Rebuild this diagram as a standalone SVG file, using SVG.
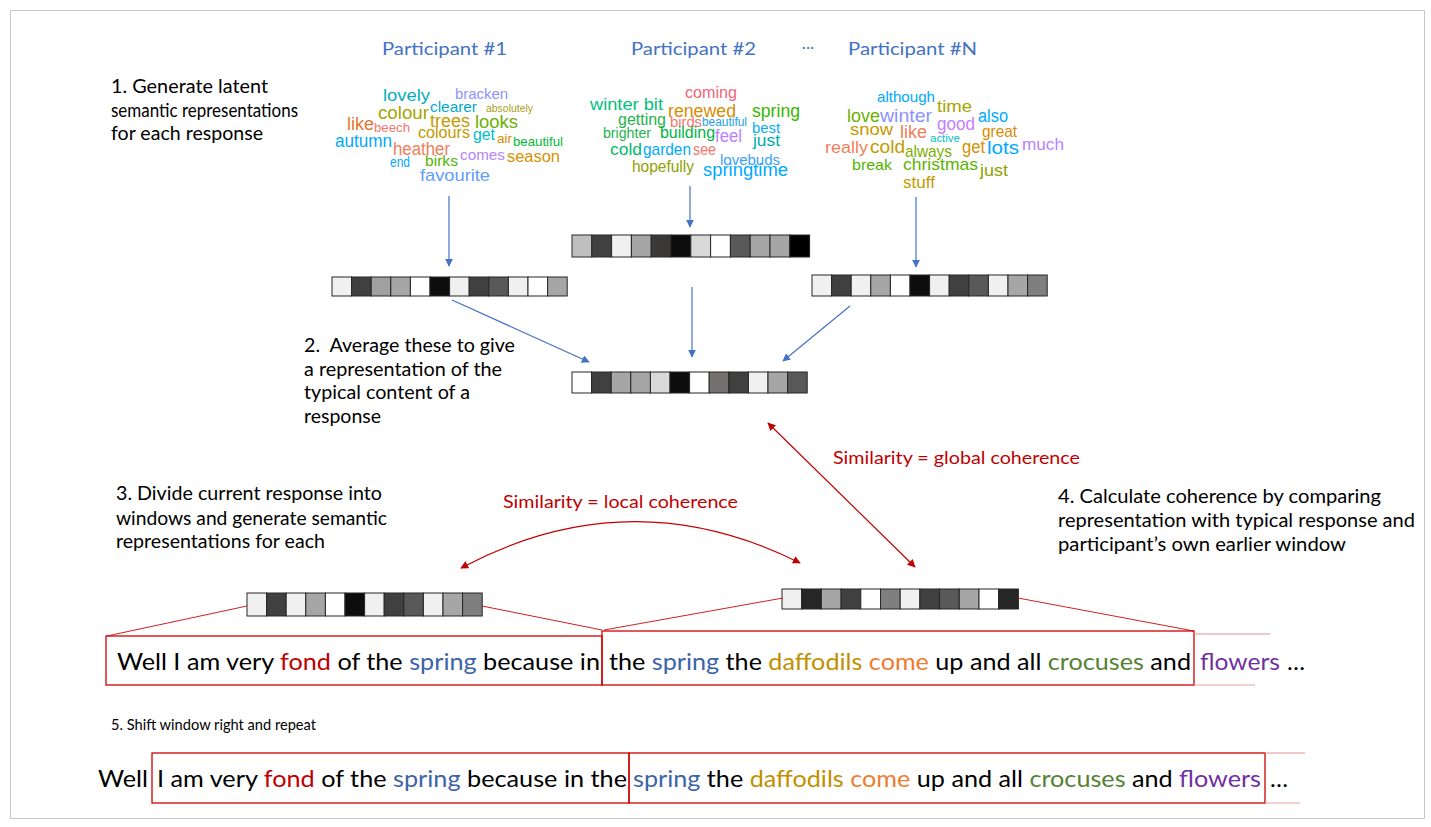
<svg xmlns="http://www.w3.org/2000/svg" width="1431" height="827" viewBox="0 0 1431 827">
<style>
.lbl{font-family:"Lato","Liberation Sans",sans-serif;font-size:18.5px;fill:#000}
.part{font-family:"Lato","Liberation Sans",sans-serif;font-size:17.5px;fill:#4472C4}
.red{font-family:"Lato","Liberation Sans",sans-serif;font-size:18px;fill:#C00000}
.wc{font-family:"Liberation Sans Narrow","Liberation Sans",sans-serif}
.sent{font-family:"Lato","Liberation Sans",sans-serif;font-size:24px;fill:#000}
.cell{stroke:#262626;stroke-width:1}
.bl{stroke:#4472C4;stroke-width:1.2;fill:none;marker-end:url(#ab)}
.rl{stroke:#C00000;stroke-width:1.2;fill:none;marker-end:url(#ar);marker-start:url(#ar)}
.win{stroke:#D00000;stroke-width:1.3;fill:none}
.zoomline{stroke:#D02020;stroke-width:1}
.fond{fill:#C00000}.spr{fill:#3D63A8}.daf{fill:#C09000}.come{fill:#ED7D31}.cro{fill:#548235}.flo{fill:#7030A0}
</style>
<defs>
<marker id="ab" viewBox="0 0 10 10" refX="9" refY="5" markerWidth="8" markerHeight="8" markerUnits="userSpaceOnUse" orient="auto"><path d="M0,0 L10,5 L0,10 z" fill="#4472C4"/></marker>
<marker id="ar" viewBox="0 0 10 10" refX="9" refY="5" markerWidth="8" markerHeight="8" markerUnits="userSpaceOnUse" orient="auto-start-reverse"><path d="M0,0 L10,5 L0,10 z" fill="#C00000"/></marker>
</defs>
<rect x="0" y="0" width="1431" height="827" fill="#fff"/>
<rect x="10.5" y="10.5" width="1414" height="808" fill="none" stroke="#C8C8C8" stroke-width="1"/>

<g id="step1"><text class="lbl" x="111" y="93" textLength="157" lengthAdjust="spacingAndGlyphs">1. Generate latent</text><text class="lbl" x="111" y="117" textLength="187" lengthAdjust="spacingAndGlyphs">semantic representations</text><text class="lbl" x="111" y="140" textLength="152" lengthAdjust="spacingAndGlyphs">for each response</text></g>
<g id="step2"><text class="lbl" x="304" y="352" textLength="211" lengthAdjust="spacingAndGlyphs" xml:space="preserve">2.  Average these to give</text><text class="lbl" x="304" y="376" textLength="198" lengthAdjust="spacingAndGlyphs">a representation of the</text><text class="lbl" x="304" y="399" textLength="166" lengthAdjust="spacingAndGlyphs">typical content of a</text><text class="lbl" x="304" y="423" textLength="77" lengthAdjust="spacingAndGlyphs">response</text></g>
<g id="step3"><text class="lbl" x="116" y="500" textLength="266" lengthAdjust="spacingAndGlyphs">3. Divide current response into</text><text class="lbl" x="116" y="525" textLength="271" lengthAdjust="spacingAndGlyphs">windows and generate semantic</text><text class="lbl" x="116" y="548" textLength="209" lengthAdjust="spacingAndGlyphs">representations for each</text></g>
<g id="step4"><text class="lbl" x="1058" y="503" textLength="323" lengthAdjust="spacingAndGlyphs">4. Calculate coherence by comparing</text><text class="lbl" x="1058" y="527" textLength="357" lengthAdjust="spacingAndGlyphs">representation with typical response and</text><text class="lbl" x="1058" y="551" textLength="288" lengthAdjust="spacingAndGlyphs">participant’s own earlier window</text></g>
<g id="step5"><text class="lbl" x="111" y="730" style="font-size:16px" textLength="205" lengthAdjust="spacingAndGlyphs">5. Shift window right and repeat</text></g>

<g id="participants">
<text class="part" x="382" y="55" textLength="125" lengthAdjust="spacingAndGlyphs">Participant #1</text>
<text class="part" x="631" y="55" textLength="125" lengthAdjust="spacingAndGlyphs">Participant #2</text>
<text class="part" x="808" y="49" text-anchor="middle">...</text>
<text class="part" x="848" y="55" textLength="129" lengthAdjust="spacingAndGlyphs">Participant #N</text>
</g>

<g id="cloud1" class="wc">
<text x="383" y="101" font-size="17" fill="#00AFBB" textLength="47" lengthAdjust="spacingAndGlyphs">lovely</text>
<text x="455" y="99" font-size="15" fill="#8B93FF" textLength="53" lengthAdjust="spacingAndGlyphs">bracken</text>
<text x="430" y="112" font-size="15" fill="#00A8C8" textLength="47" lengthAdjust="spacingAndGlyphs">clearer</text>
<text x="486" y="112" font-size="11" fill="#A8A020" textLength="47" lengthAdjust="spacingAndGlyphs">absolutely</text>
<text x="378" y="119" font-size="18" fill="#A3A500" textLength="51" lengthAdjust="spacingAndGlyphs">colour</text>
<text x="430" y="127" font-size="18" fill="#C49A00" textLength="40" lengthAdjust="spacingAndGlyphs">trees</text>
<text x="475" y="128" font-size="18" fill="#6BB100" textLength="43" lengthAdjust="spacingAndGlyphs">looks</text>
<text x="347" y="130" font-size="18" fill="#E0762F" textLength="27" lengthAdjust="spacingAndGlyphs">like</text>
<text x="374" y="132" font-size="12" fill="#F8766D" textLength="36" lengthAdjust="spacingAndGlyphs">beech</text>
<text x="418" y="138" font-size="16" fill="#C49A00" textLength="52" lengthAdjust="spacingAndGlyphs">colours</text>
<text x="473" y="140" font-size="16" fill="#00BFC4" textLength="22" lengthAdjust="spacingAndGlyphs">get</text>
<text x="497" y="143" font-size="13" fill="#E08B00" textLength="15" lengthAdjust="spacingAndGlyphs">air</text>
<text x="513" y="146" font-size="13" fill="#00BA38" textLength="50" lengthAdjust="spacingAndGlyphs">beautiful</text>
<text x="335" y="147" font-size="18" fill="#00A9FF" textLength="57" lengthAdjust="spacingAndGlyphs">autumn</text>
<text x="393" y="155" font-size="18" fill="#F07E5A" textLength="57" lengthAdjust="spacingAndGlyphs">heather</text>
<text x="460" y="160" font-size="15" fill="#B983FF" textLength="45" lengthAdjust="spacingAndGlyphs">comes</text>
<text x="507" y="162" font-size="16" fill="#D39200" textLength="53" lengthAdjust="spacingAndGlyphs">season</text>
<text x="390" y="167" font-size="15" fill="#00A9FF" textLength="20" lengthAdjust="spacingAndGlyphs">end</text>
<text x="425" y="166" font-size="15" fill="#53B400" textLength="33" lengthAdjust="spacingAndGlyphs">birks</text>
<text x="420" y="181" font-size="17" fill="#619CFF" textLength="70" lengthAdjust="spacingAndGlyphs">favourite</text>
</g>

<g id="cloud2" class="wc">
<text x="685" y="98" font-size="16" fill="#F0657A" textLength="52" lengthAdjust="spacingAndGlyphs">coming</text>
<text x="590" y="110" font-size="17" fill="#00BF7D" textLength="73" lengthAdjust="spacingAndGlyphs">winter bit</text>
<text x="668" y="117" font-size="18" fill="#D98C00" textLength="68" lengthAdjust="spacingAndGlyphs">renewed</text>
<text x="752" y="117" font-size="18" fill="#39B600" textLength="48" lengthAdjust="spacingAndGlyphs">spring</text>
<text x="618" y="125" font-size="16" fill="#24B24C" textLength="48" lengthAdjust="spacingAndGlyphs">getting</text>
<text x="670" y="127" font-size="14" fill="#F8766D" textLength="32" lengthAdjust="spacingAndGlyphs">birds</text>
<text x="702" y="126" font-size="12" fill="#1AA3E8" textLength="45" lengthAdjust="spacingAndGlyphs">beautiful</text>
<text x="752" y="133" font-size="15" fill="#00B0F6" textLength="28" lengthAdjust="spacingAndGlyphs">best</text>
<text x="603" y="138" font-size="14" fill="#1CB34F" textLength="48" lengthAdjust="spacingAndGlyphs">brighter</text>
<text x="660" y="138" font-size="16" fill="#00B53F" textLength="55" lengthAdjust="spacingAndGlyphs">building</text>
<text x="715" y="142" font-size="18" fill="#B983FF" textLength="27" lengthAdjust="spacingAndGlyphs">feel</text>
<text x="753" y="146" font-size="17" fill="#00ABAF" textLength="27" lengthAdjust="spacingAndGlyphs">just</text>
<text x="610" y="155" font-size="17" fill="#00BA6B" textLength="32" lengthAdjust="spacingAndGlyphs">cold</text>
<text x="643" y="155" font-size="17" fill="#00A9FF" textLength="48" lengthAdjust="spacingAndGlyphs">garden</text>
<text x="693" y="155" font-size="17" fill="#F8766D" textLength="23" lengthAdjust="spacingAndGlyphs">see</text>
<text x="720" y="165" font-size="15" fill="#35A2FF" textLength="60" lengthAdjust="spacingAndGlyphs">lovebuds</text>
<text x="632" y="172" font-size="16" fill="#8EA200" textLength="62" lengthAdjust="spacingAndGlyphs">hopefully</text>
<text x="703" y="176" font-size="18" fill="#00A9FF" textLength="85" lengthAdjust="spacingAndGlyphs">springtime</text>
</g>

<g id="cloudN" class="wc">
<text x="877" y="102" font-size="15" fill="#00A9FF" textLength="58" lengthAdjust="spacingAndGlyphs">although</text>
<text x="937" y="112" font-size="17" fill="#A3A500" textLength="35" lengthAdjust="spacingAndGlyphs">time</text>
<text x="847" y="122" font-size="18" fill="#6BB100" textLength="33" lengthAdjust="spacingAndGlyphs">love</text>
<text x="880" y="122" font-size="18" fill="#8B93FF" textLength="52" lengthAdjust="spacingAndGlyphs">winter</text>
<text x="978" y="122" font-size="18" fill="#00A9FF" textLength="30" lengthAdjust="spacingAndGlyphs">also</text>
<text x="937" y="130" font-size="18" fill="#C77CFF" textLength="38" lengthAdjust="spacingAndGlyphs">good</text>
<text x="850" y="135" font-size="17" fill="#C49A00" textLength="43" lengthAdjust="spacingAndGlyphs">snow</text>
<text x="900" y="138" font-size="18" fill="#F07E5A" textLength="27" lengthAdjust="spacingAndGlyphs">like</text>
<text x="982" y="137" font-size="17" fill="#D98C00" textLength="35" lengthAdjust="spacingAndGlyphs">great</text>
<text x="930" y="142" font-size="11" fill="#00BFC4" textLength="30" lengthAdjust="spacingAndGlyphs">active</text>
<text x="825" y="153" font-size="17" fill="#F07E5A" textLength="43" lengthAdjust="spacingAndGlyphs">really</text>
<text x="870" y="153" font-size="18" fill="#C49A00" textLength="35" lengthAdjust="spacingAndGlyphs">cold</text>
<text x="905" y="157" font-size="17" fill="#7CAE00" textLength="47" lengthAdjust="spacingAndGlyphs">always</text>
<text x="962" y="153" font-size="18" fill="#D39200" textLength="23" lengthAdjust="spacingAndGlyphs">get</text>
<text x="987" y="154" font-size="18" fill="#00A9FF" textLength="32" lengthAdjust="spacingAndGlyphs">lots</text>
<text x="1022" y="150" font-size="17" fill="#B983FF" textLength="42" lengthAdjust="spacingAndGlyphs">much</text>
<text x="852" y="170" font-size="15" fill="#53B400" textLength="40" lengthAdjust="spacingAndGlyphs">break</text>
<text x="903" y="170" font-size="17" fill="#5BB300" textLength="75" lengthAdjust="spacingAndGlyphs">christmas</text>
<text x="980" y="176" font-size="16" fill="#8EA200" textLength="28" lengthAdjust="spacingAndGlyphs">just</text>
<text x="903" y="188" font-size="16" fill="#C49A00" textLength="32" lengthAdjust="spacingAndGlyphs">stuff</text>
</g>

<g id="vec1" class="cell">
<rect x="332" y="277" width="19.6" height="19" fill="#F0F0F0"/><rect x="351.6" y="277" width="19.6" height="19" fill="#404040"/><rect x="371.2" y="277" width="19.6" height="19" fill="#A0A0A0"/><rect x="390.8" y="277" width="19.6" height="19" fill="#A6A6A6"/><rect x="410.4" y="277" width="19.6" height="19" fill="#FFFFFF"/><rect x="430" y="277" width="19.6" height="19" fill="#0D0D0D"/><rect x="449.6" y="277" width="19.6" height="19" fill="#F0F0F0"/><rect x="469.2" y="277" width="19.6" height="19" fill="#404040"/><rect x="488.8" y="277" width="19.6" height="19" fill="#595959"/><rect x="508.4" y="277" width="19.6" height="19" fill="#F0F0F0"/><rect x="528" y="277" width="19.6" height="19" fill="#FFFFFF"/><rect x="547.6" y="277" width="19.6" height="19" fill="#A6A6A6"/>
</g>
<g id="vec2" class="cell">
<rect x="572" y="235" width="19.8" height="22" fill="#BFBFBF"/><rect x="591.8" y="235" width="19.8" height="22" fill="#404040"/><rect x="611.6" y="235" width="19.8" height="22" fill="#F0F0F0"/><rect x="631.4" y="235" width="19.8" height="22" fill="#A6A6A6"/><rect x="651.2" y="235" width="19.8" height="22" fill="#3B3838"/><rect x="671" y="235" width="19.8" height="22" fill="#0D0D0D"/><rect x="690.8" y="235" width="19.8" height="22" fill="#D9D9D9"/><rect x="710.6" y="235" width="19.8" height="22" fill="#FFFFFF"/><rect x="730.4" y="235" width="19.8" height="22" fill="#595959"/><rect x="750.2" y="235" width="19.8" height="22" fill="#A6A6A6"/><rect x="770" y="235" width="19.8" height="22" fill="#A6A6A6"/><rect x="789.8" y="235" width="19.8" height="22" fill="#000000"/>
</g>
<g id="vecN" class="cell">
<rect x="812" y="275" width="19.6" height="21" fill="#F0F0F0"/><rect x="831.6" y="275" width="19.6" height="21" fill="#404040"/><rect x="851.2" y="275" width="19.6" height="21" fill="#F0F0F0"/><rect x="870.8" y="275" width="19.6" height="21" fill="#A6A6A6"/><rect x="890.4" y="275" width="19.6" height="21" fill="#FFFFFF"/><rect x="910" y="275" width="19.6" height="21" fill="#0D0D0D"/><rect x="929.6" y="275" width="19.6" height="21" fill="#F0F0F0"/><rect x="949.2" y="275" width="19.6" height="21" fill="#404040"/><rect x="968.8" y="275" width="19.6" height="21" fill="#595959"/><rect x="988.4" y="275" width="19.6" height="21" fill="#F0F0F0"/><rect x="1008" y="275" width="19.6" height="21" fill="#A6A6A6"/><rect x="1027.6" y="275" width="19.6" height="21" fill="#7F7F7F"/>
</g>
<g id="vecAvg" class="cell">
<rect x="572" y="372" width="19.6" height="21" fill="#FFFFFF"/><rect x="591.6" y="372" width="19.6" height="21" fill="#404040"/><rect x="611.2" y="372" width="19.6" height="21" fill="#A6A6A6"/><rect x="630.8" y="372" width="19.6" height="21" fill="#A6A6A6"/><rect x="650.4" y="372" width="19.6" height="21" fill="#D9D9D9"/><rect x="670" y="372" width="19.6" height="21" fill="#0D0D0D"/><rect x="689.6" y="372" width="19.6" height="21" fill="#FFFFFF"/><rect x="709.2" y="372" width="19.6" height="21" fill="#767171"/><rect x="728.8" y="372" width="19.6" height="21" fill="#404040"/><rect x="748.4" y="372" width="19.6" height="21" fill="#F0F0F0"/><rect x="768" y="372" width="19.6" height="21" fill="#A6A6A6"/><rect x="787.6" y="372" width="19.6" height="21" fill="#595959"/>
</g>
<g id="win1vec" class="cell">
<rect x="247" y="593" width="19.6" height="23" fill="#F0F0F0"/><rect x="266.6" y="593" width="19.6" height="23" fill="#404040"/><rect x="286.2" y="593" width="19.6" height="23" fill="#F0F0F0"/><rect x="305.8" y="593" width="19.6" height="23" fill="#A6A6A6"/><rect x="325.4" y="593" width="19.6" height="23" fill="#FFFFFF"/><rect x="345" y="593" width="19.6" height="23" fill="#0D0D0D"/><rect x="364.6" y="593" width="19.6" height="23" fill="#F0F0F0"/><rect x="384.2" y="593" width="19.6" height="23" fill="#404040"/><rect x="403.8" y="593" width="19.6" height="23" fill="#595959"/><rect x="423.4" y="593" width="19.6" height="23" fill="#F0F0F0"/><rect x="443" y="593" width="19.6" height="23" fill="#A6A6A6"/><rect x="462.6" y="593" width="19.6" height="23" fill="#7F7F7F"/>
</g>
<g id="win2vec" class="cell">
<rect x="782" y="589" width="19.7" height="20" fill="#F0F0F0"/><rect x="801.7" y="589" width="19.7" height="20" fill="#262626"/><rect x="821.4" y="589" width="19.7" height="20" fill="#A6A6A6"/><rect x="841.1" y="589" width="19.7" height="20" fill="#404040"/><rect x="860.8" y="589" width="19.7" height="20" fill="#FFFFFF"/><rect x="880.5" y="589" width="19.7" height="20" fill="#7F7F7F"/><rect x="900.2" y="589" width="19.7" height="20" fill="#F0F0F0"/><rect x="919.9" y="589" width="19.7" height="20" fill="#404040"/><rect x="939.6" y="589" width="19.7" height="20" fill="#595959"/><rect x="959.3" y="589" width="19.7" height="20" fill="#A6A6A6"/><rect x="979" y="589" width="19.7" height="20" fill="#FFFFFF"/><rect x="998.7" y="589" width="19.7" height="20" fill="#262626"/>
</g>

<g id="connectors">
<line class="bl" x1="449" y1="196" x2="449" y2="266"/>
<line class="bl" x1="690" y1="186" x2="690" y2="227"/>
<line class="bl" x1="916" y1="197" x2="916" y2="267"/>
<line class="bl" x1="452" y1="300" x2="589" y2="362"/>
<line class="bl" x1="692" y1="287" x2="692" y2="357"/>
<line class="bl" x1="850" y1="306" x2="783" y2="361"/>
<line class="rl" x1="768" y1="423" x2="915" y2="567"/>
<path class="rl" d="M461,568 Q630,478 800,563"/>
<line class="zoomline" x1="247" y1="606" x2="107" y2="636"/>
<line class="zoomline" x1="482" y1="606" x2="602" y2="630"/>
<line class="zoomline" x1="783" y1="598" x2="604" y2="630"/>
<line class="zoomline" x1="1018" y1="598" x2="1194" y2="631"/>
</g>

<g id="similarity">
<text class="red" x="833" y="464" textLength="247" lengthAdjust="spacingAndGlyphs">Similarity = global coherence</text>
<text class="red" x="503" y="508" textLength="235" lengthAdjust="spacingAndGlyphs">Similarity = local coherence</text>
</g>

<g id="row1">
<rect class="win" x="106" y="636" width="496" height="49"/>
<rect class="win" x="602" y="631" width="592" height="54"/>
<line x1="1194" y1="634" x2="1270" y2="634" stroke="#E89090" stroke-width="1.2"/>
<line x1="1194" y1="685" x2="1255" y2="685" stroke="#E8A0A0" stroke-width="1.2"/>
<text class="sent" x="117" y="670" textLength="483" lengthAdjust="spacingAndGlyphs">Well I am very <tspan class="fond">fond</tspan> of the <tspan class="spr">spring</tspan> because in</text>
<text class="sent" x="609" y="670" textLength="582" lengthAdjust="spacingAndGlyphs">the <tspan class="spr">spring</tspan> the <tspan class="daf">daffodils</tspan> <tspan class="come">come</tspan> up and all <tspan class="cro">crocuses</tspan> and</text>
<text class="sent" x="1200" y="670" textLength="80" lengthAdjust="spacingAndGlyphs"><tspan class="flo">flowers</tspan></text>
<text class="sent" x="1287" y="670">…</text>
</g>

<g id="row2">
<rect class="win" x="152" y="753" width="477" height="50"/>
<rect class="win" x="629" y="753" width="636" height="50"/>
<line x1="1265" y1="753" x2="1305" y2="753" stroke="#E89090" stroke-width="1.2"/>
<line x1="1265" y1="803" x2="1300" y2="803" stroke="#E8A0A0" stroke-width="1.2"/>
<text class="sent" x="98" y="787" textLength="50" lengthAdjust="spacingAndGlyphs">Well</text>
<text class="sent" x="157" y="787" textLength="470" lengthAdjust="spacingAndGlyphs">I am very <tspan class="fond">fond</tspan> of the <tspan class="spr">spring</tspan> because in the</text>
<text class="sent" x="633" y="787" textLength="628" lengthAdjust="spacingAndGlyphs"><tspan class="spr">spring</tspan> the <tspan class="daf">daffodils</tspan> <tspan class="come">come</tspan> up and all <tspan class="cro">crocuses</tspan> and <tspan class="flo">flowers</tspan></text>
<text class="sent" x="1270" y="787">…</text>
</g>
</svg>
